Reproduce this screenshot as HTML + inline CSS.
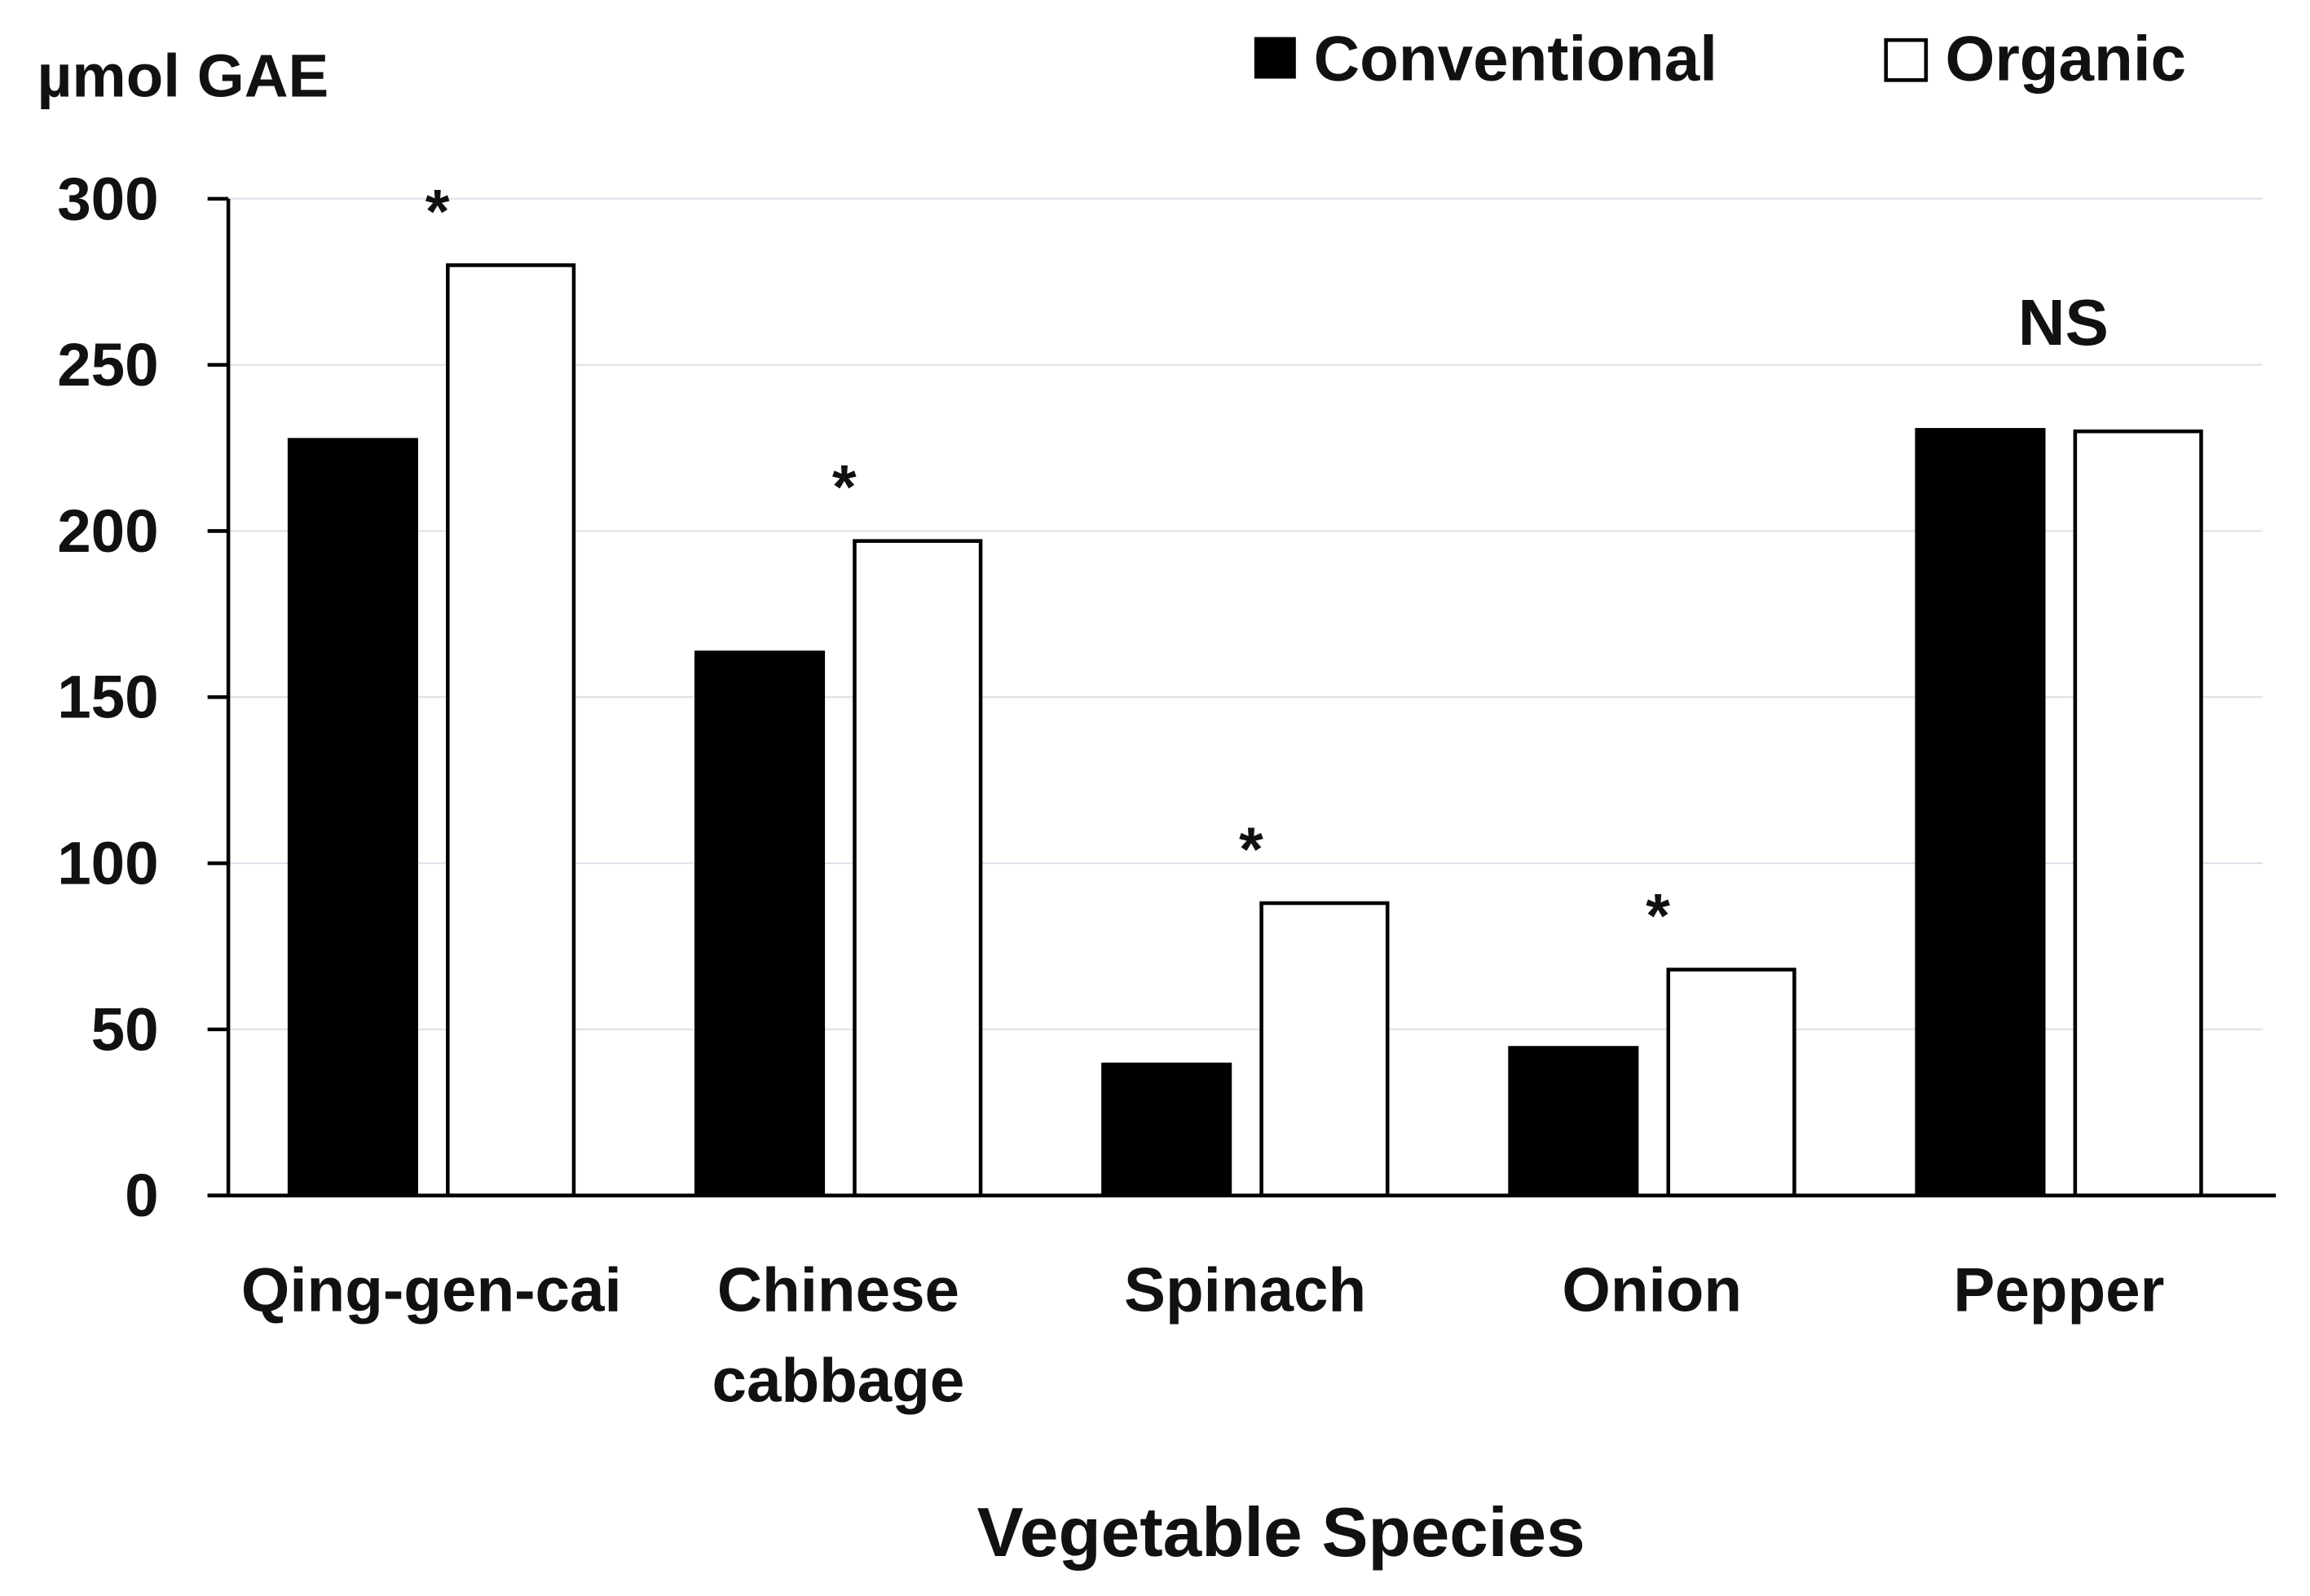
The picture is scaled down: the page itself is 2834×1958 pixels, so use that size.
<!DOCTYPE html>
<html><head><meta charset="utf-8"><style>
html,body{margin:0;padding:0;background:#fff;}
svg{display:block;font-family:"Liberation Sans",sans-serif;font-weight:bold;}
</style></head><body>
<svg id="chart" width="2834" height="1958" viewBox="0 0 1558 1076" preserveAspectRatio="none" xmlns="http://www.w3.org/2000/svg">
<rect x="0" y="0" width="1558" height="1076" fill="#fff"/>
<g id="grid"></g>
<g id="bars"></g>
<g id="axes"></g>
<text x="25" y="65" font-size="41" fill="#111">µmol GAE</text>
<g>
<rect x="846" y="25" width="28" height="28" fill="#000"/>
<text x="886" y="54" font-size="43" fill="#111">Conventional</text>
<rect x="1272" y="27" width="27" height="27" fill="#fff" stroke="#000" stroke-width="2.5"/>
<text x="1312" y="54" font-size="43" fill="#111">Organic</text>
</g>
<text x="864" y="1049" font-size="47" text-anchor="middle" fill="#111">Vegetable Species</text>
</svg>
<script>
const categories = ["Qing-gen-cai", "Chinese cabbage", "Spinach", "Onion", "Pepper"];
const conventional = [228, 164, 40, 45, 231];
const organic = [280, 197, 88, 68, 230];
const marks = ["*", "*", "*", "*", "NS"];
const yTicks = [0, 50, 100, 150, 200, 250, 300];

const NS = "http://www.w3.org/2000/svg";
const x0 = 154, x1 = 1526, yBase = 806, yTop = 134, yMax = 300;
const band = (x1 - x0) / categories.length;
const y = v => yBase - (v / yMax) * (yBase - yTop);
const bx = i => x0 + i * band;
function mk(tag, attrs, parent) {
  const e = document.createElementNS(NS, tag);
  for (const k in attrs) e.setAttribute(k, attrs[k]);
  parent.appendChild(e);
  return e;
}
const grid = document.getElementById('grid'), bars = document.getElementById('bars'), axes = document.getElementById('axes');
yTicks.forEach(t => {
  if (t > 0) {
    const g = mk('line', {x1: x0, x2: x1, y1: y(t), y2: y(t), stroke: '#dde3ea', 'stroke-width': 1.2}, grid);
    
    
  }
  const tk = mk('line', {x1: x0 - 14, x2: x0, y1: y(t), y2: y(t), stroke: '#000', 'stroke-width': 2.5}, axes);
  
  
  const lb = mk('text', {x: 107, y: y(t) + 14, 'font-size': 41, 'text-anchor': 'end', fill: '#111'}, axes);
  lb.textContent = t;
  
  
});
const ya = mk('line', {x1: x0, x2: x0, y1: yTop, y2: yBase, stroke: '#000', 'stroke-width': 2.5}, axes);


const xa = mk('line', {x1: x0 - 14, x2: 1535, y1: yBase, y2: yBase, stroke: '#000', 'stroke-width': 2.5}, axes);



categories.forEach((c, i) => {
  const left = bx(i) + 40;
  const r1 = mk('rect', {x: left, y: y(conventional[i]), width: 88, height: yBase - y(conventional[i]), fill: '#000'}, bars);
  
  
  const r2 = mk('rect', {x: left + 108, y: y(organic[i]), width: 85, height: yBase - y(organic[i]), fill: '#fff', stroke: '#000', 'stroke-width': 2.5}, bars);
  
  
  const top = Math.max(conventional[i], organic[i]);
  const center = left + 97;
  const isNS = marks[i] === 'NS';
  const m = mk('text', {x: isNS ? center + 3 : center + 4, y: isNS ? y(top) - 56 : y(top) - 22, 'font-size': isNS ? 44 : 42, 'text-anchor': 'middle', fill: '#111'}, bars);
  m.textContent = marks[i];
  
  
  const words = c === 'Chinese cabbage' ? ['Chinese', 'cabbage'] : [c];
  words.forEach((w, j) => {
    const t = mk('text', {x: center, y: 884 + j * 61, 'font-size': 42, 'text-anchor': 'middle', fill: '#111'}, axes);
    t.textContent = w;
    
    
  });
});
</script>
</body></html>
